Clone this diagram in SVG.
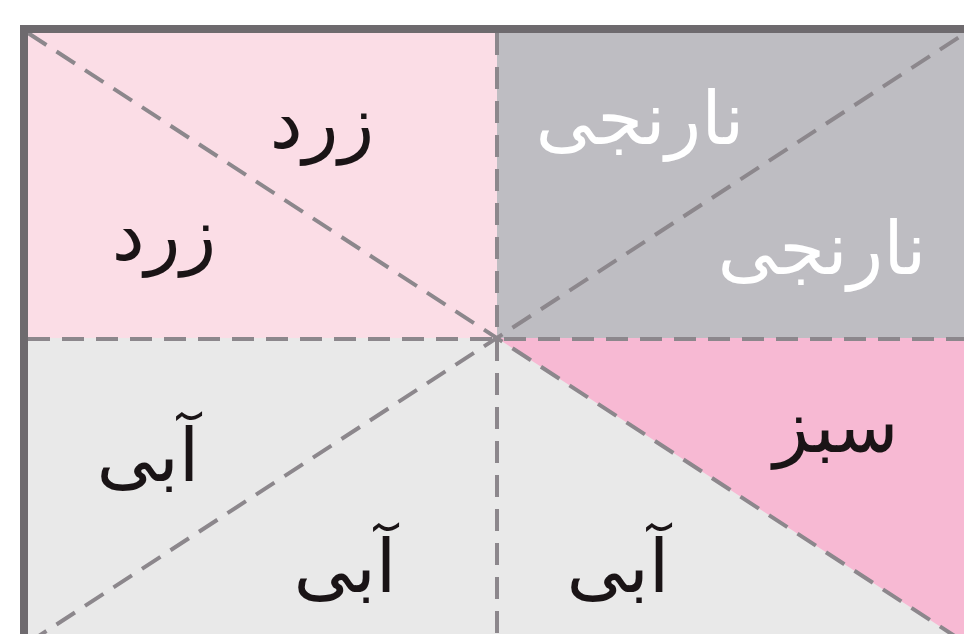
<svg xmlns="http://www.w3.org/2000/svg" width="964" height="634" viewBox="0 0 964 634">
<style>
.lbl{font-family:"DejaVu Sans","Noto Sans",sans-serif;font-size:74px;text-anchor:middle;fill:#1a1416}
.wht{fill:#ffffff}
.dash{stroke:#8c878c;stroke-width:4;stroke-dasharray:22 12;fill:none}
</style>
<rect width="964" height="634" fill="#ffffff"/>
<g id="quadrants">
<rect id="q-tl" x="24" y="29" width="473" height="309" fill="#fbdde6"/>
<rect id="q-tr" x="497" y="29" width="470" height="309" fill="#bebdc2"/>
<rect id="q-bl" x="24" y="338" width="473" height="310" fill="#e9e9e9"/>
<rect id="q-br" x="497" y="338" width="470" height="310" fill="#e9e9e9"/>
<polygon id="q-br-pink" points="497,338 967,338 967,644" fill="#f7b9d3"/>
</g>
<g id="connectors">
<line class="dash" x1="28" y1="33" x2="967" y2="644"/>
<line class="dash" x1="28" y1="643" x2="967" y2="32"/>
<line class="dash" x1="28" y1="339" x2="967" y2="339"/>
<line class="dash" x1="497" y1="33" x2="497" y2="640"/>
</g>
<path id="frame" d="M24,640 V29 H968" fill="none" stroke="#6e6a6e" stroke-width="8"/>
<g id="label-zard-1"><text class="lbl" x="322" y="148">زرد</text></g>
<g id="label-zard-2"><text class="lbl" x="164" y="260">زرد</text></g>
<g id="label-narenji-1"><text class="lbl wht" x="640" y="144">نارنجی</text></g>
<g id="label-narenji-2"><text class="lbl wht" x="822" y="274">نارنجی</text></g>
<g id="label-sabz"><text class="lbl" x="836" y="452">سبز</text></g>
<g id="label-abi-1"><text class="lbl" x="148" y="481">آبی</text></g>
<g id="label-abi-2"><text class="lbl" x="345" y="592">آبی</text></g>
<g id="label-abi-3"><text class="lbl" x="618" y="592">آبی</text></g>
</svg>
